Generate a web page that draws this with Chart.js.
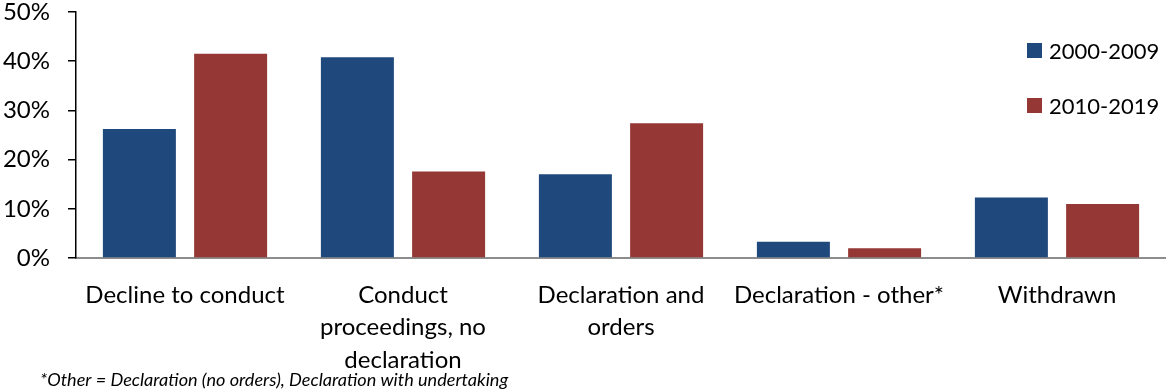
<!DOCTYPE html>
<html>
<head>
<meta charset="utf-8">
<title>Outcomes by decade</title>
<script src="https://cdn.jsdelivr.net/npm/chart.js@4/dist/chart.umd.min.js"></script>
<style>
  html, body { margin: 0; padding: 0; background: #fff; }
  #wrap { position: relative; width: 1166px; height: 391px; }
</style>
</head>
<body>
<div id="wrap"><canvas id="chart" width="1166" height="391"></canvas></div>
<script>
// Share of outcomes (%) per category, for each decade
const categories = [
  'Decline to conduct',
  ['Conduct', 'proceedings, no', 'declaration'],
  ['Declaration and', 'orders'],
  'Declaration - other*',
  'Withdrawn'
];
const seriesNames = ['2000-2009', '2010-2019'];
const values2000s = [26.2, 40.8, 17.0, 3.3, 12.3];
const values2010s = [41.5, 17.6, 27.4, 2.0, 11.0];
const yTicks = [0, 10, 20, 30, 40, 50];
const footnote = '*Other = Declaration (no orders), Declaration with undertaking';

const FONT = 'Lato, "Open Sans", sans-serif';
const BLUE = '#1F497D';
const RED = '#953735';

// Legend stacked in the top-right corner, over the plot
const cornerLegend = {
  id: 'cornerLegend',
  afterDraw(chart) {
    const ctx = chart.ctx;
    const x = chart.chartArea.right - 139;
    ctx.save();
    ctx.font = '22px ' + FONT;
    ctx.textBaseline = 'middle';
    ctx.textAlign = 'left';
    chart.data.datasets.forEach((ds, i) => {
      const y = 50.5 + i * 55;
      ctx.fillStyle = ds.backgroundColor;
      ctx.fillRect(x, y - 7.5, 15, 15);
      ctx.fillStyle = '#000';
      ctx.fillText(ds.label, x + 22, y + 1);
    });
    ctx.restore();
  }
};

// Italic note under the axis labels
const noteText = {
  id: 'noteText',
  afterDraw(chart) {
    const ctx = chart.ctx;
    ctx.save();
    ctx.font = 'italic 18.1px ' + FONT;
    ctx.fillStyle = '#000';
    ctx.textBaseline = 'alphabetic';
    ctx.textAlign = 'left';
    ctx.fillText(footnote, 40, 386);
    ctx.restore();
  }
};

new Chart(document.getElementById('chart'), {
  type: 'bar',
  data: {
    labels: categories,
    datasets: [
      { label: seriesNames[0], data: values2000s, backgroundColor: BLUE },
      { label: seriesNames[1], data: values2010s, backgroundColor: RED }
    ]
  },
  options: {
    responsive: false,
    animation: false,
    layout: { padding: { top: 12, right: 0, bottom: 0, left: 0 } },
    datasets: {
      bar: { categoryPercentage: 0.837, barPercentage: 0.8, borderWidth: 0 }
    },
    plugins: {
      legend: { display: false },
      tooltip: { enabled: false }
    },
    scales: {
      x: {
        grid: { display: false, drawTicks: false },
        border: { display: true, color: '#8c8c8c', width: 2 },
        ticks: {
          color: '#000',
          padding: 21,
          maxRotation: 0,
          autoSkip: false,
          font: { family: FONT, size: 24, lineHeight: 1.354 }
        },
        afterFit(scale) { scale.height = 133; }
      },
      y: {
        min: 0,
        max: 50,
        afterBuildTicks(scale) { scale.ticks = yTicks.map(v => ({ value: v })); },
        grid: {
          drawOnChartArea: false,
          drawTicks: true,
          tickLength: 8,
          color: '#000',
          lineWidth: 1.5
        },
        border: { display: true, color: '#000', width: 1.5 },
        ticks: {
          color: '#000',
          padding: 18,
          font: { family: FONT, size: 24, lineHeight: 1 },
          callback: v => v + '%'
        },
        afterFit(scale) {
          scale.width = 76;
          scale.paddingTop = 0;
          scale.paddingBottom = 0;
        }
      }
    }
  },
  plugins: [cornerLegend, noteText]
});
</script>
</body>
</html>
